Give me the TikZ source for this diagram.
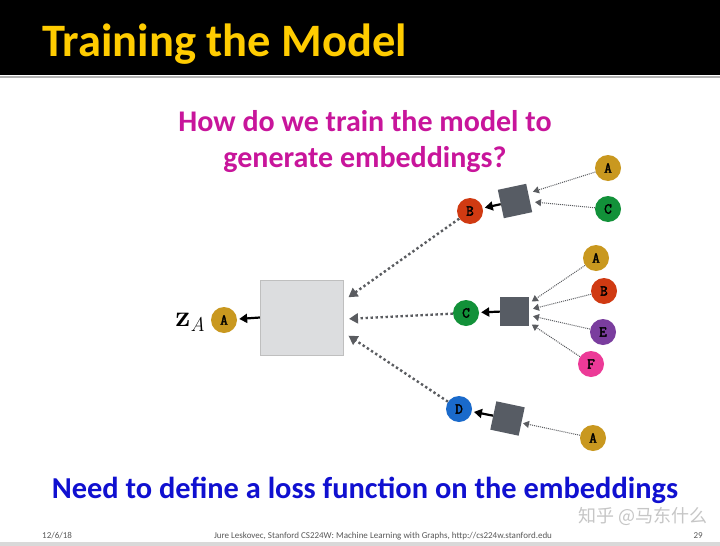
\documentclass[tikz,border=0pt]{standalone}
\usepackage{fontspec}
\setmainfont{Carlito}
\newfontfamily\monob[FakeBold=2.5]{Latin Modern Mono}
\newfontfamily\lmr{Latin Modern Roman}
\newfontfamily\cjk{Noto Sans CJK SC}
\usetikzlibrary{arrows.meta}
\definecolor{titley}{HTML}{FFCC00}
\definecolor{magq}{HTML}{C8159B}
\definecolor{blueq}{HTML}{1010D0}
\definecolor{cgold}{HTML}{C9981F}
\definecolor{cred}{HTML}{D03A12}
\definecolor{cgreen}{HTML}{129139}
\definecolor{cpurple}{HTML}{7A3D9E}
\definecolor{cpink}{HTML}{EC3A97}
\definecolor{cblue}{HTML}{1A6ACB}
\definecolor{sqgray}{HTML}{575C64}
\definecolor{boxgray}{HTML}{DCDDDF}
\definecolor{dotgray}{HTML}{5A5C60}
\tikzset{
  vtx/.style={circle, minimum size=26pt, inner sep=0pt, font=\monob\fontsize{15}{15}\selectfont},
  agg/.style={fill=sqgray, minimum size=29pt, inner sep=0pt},
  bigdot/.style={dotgray, line width=2.4pt, dash pattern=on 2.4pt off 2.6pt, -{Triangle[length=9pt,width=10pt]}, shorten >=3pt},
  smalldot/.style={dotgray, line width=1pt, dash pattern=on 1pt off 1pt, -{Triangle[length=6pt,width=7pt]}, shorten >=1pt},
  blk/.style={black, line width=2.2pt, -{Triangle[length=8pt,width=9pt]}, shorten >=2pt}
}
\begin{document}
\begin{tikzpicture}[x=1pt,y=-1pt]
\useasboundingbox (0,0) rectangle (720,546);
\fill[white] (0,0) rectangle (720,546);
% title bar
\fill[black] (0,0) rectangle (720,75);
\fill[gray!60] (0,76) rectangle (720,78);
\node[anchor=base west, inner sep=0pt, text=titley, font=\bfseries\fontsize{46.5}{46.5}\selectfont] (title) at (42,56) {Training the Model};
% question
\node[align=center, text=magq, font=\bfseries\fontsize{30}{36}\selectfont, inner sep=0pt] (q) at (365,142) {How do we train the model to\\generate embeddings?};
% big box
\node[draw=gray!50, fill=boxgray, minimum width=83pt, minimum height=75pt, inner sep=0pt] (box) at (301.5,317.5) {};
\node[vtx, fill=cgold] (a0) at (224,320) {A};
\node[anchor=east, inner sep=0pt, font=\lmr] (za) at (205,322) {{\bfseries\fontsize{30}{30}\selectfont z}\raisebox{-5pt}{\fontsize{20}{20}\selectfont\itshape A}};
\draw[blk] (box.west) -- (a0);
% middle-layer nodes
\node[vtx, fill=cred] (b1) at (470,211) {B};
\node[vtx, fill=cgreen] (c1) at (466,313) {C};
\node[vtx, fill=cblue] (d1) at (459,409) {D};
\coordinate (t1) at (346,299);
\coordinate (t2) at (346,319);
\coordinate (t3) at (346,334);
\draw[bigdot] (b1) -- (t1);
\draw[bigdot] (c1) -- (t2);
\draw[bigdot] (d1) -- (t3);
% aggregators
\node[agg, rotate=12] (s1) at (515,201) {};
\node[agg] (s2) at (514.5,311) {};
\node[agg, rotate=-12] (s3) at (507.5,418.5) {};
\draw[blk] (s1) -- (b1);
\draw[blk] (s2) -- (c1);
\draw[blk] (s3) -- (d1);
% leaves
\node[vtx, fill=cgold] (a1) at (608,168) {A};
\node[vtx, fill=cgreen] (c2) at (608,209) {C};
\node[vtx, fill=cgold] (a2) at (596,258) {A};
\node[vtx, fill=cred] (b2) at (604,291) {B};
\node[vtx, fill=cpurple] (e2) at (603,332) {E};
\node[vtx, fill=cpink] (f2) at (591,364) {F};
\node[vtx, fill=cgold] (a3) at (593,438) {A};
\coordinate (p1) at (532,192);
\coordinate (p2) at (534,202);
\coordinate (q1) at (531,302);
\coordinate (q2) at (532,309);
\coordinate (q3) at (532,316);
\coordinate (q4) at (531,324);
\coordinate (r1) at (522,423);
\draw[smalldot] (a1) -- (p1);
\draw[smalldot] (c2) -- (p2);
\draw[smalldot] (a2) -- (q1);
\draw[smalldot] (b2) -- (q2);
\draw[smalldot] (e2) -- (q3);
\draw[smalldot] (f2) -- (q4);
\draw[smalldot] (a3) -- (r1);
% bottom text
\node[text=blueq, font=\bfseries\fontsize{30.4}{30.4}\selectfont, inner sep=0pt] (need) at (365,490) {Need to define a loss function on the embeddings};
% watermark
\node[text=gray!45, font=\cjk\fontsize{18}{18}\selectfont, anchor=east, inner sep=0pt] (wm) at (708,516) {知乎 @马东什么};
% footer
\fill[gray!30] (0,542) rectangle (720,546);
\node[font=\fontsize{9}{9}\selectfont, text=gray!70!black, anchor=west, inner sep=0pt] (date) at (42,536) {12/6/18};
\node[font=\fontsize{9}{9}\selectfont, text=gray!70!black, inner sep=0pt] (foot) at (383,536) {Jure Leskovec, Stanford CS224W: Machine Learning with Graphs, http://cs224w.stanford.edu};
\node[font=\fontsize{9}{9}\selectfont, text=gray!70!black, anchor=east, inner sep=0pt] (pg) at (703,536) {29};
\end{tikzpicture}
\end{document}
